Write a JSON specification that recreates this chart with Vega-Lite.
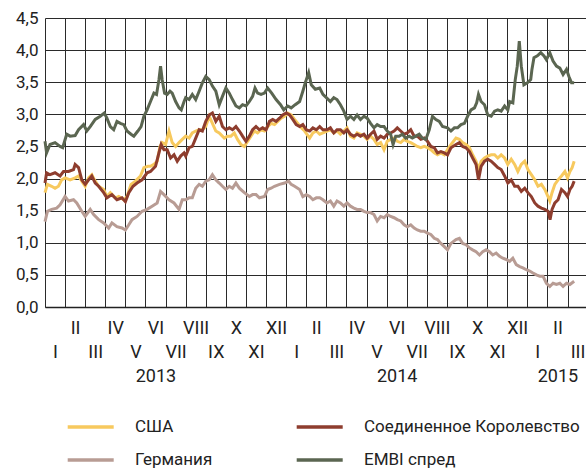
{
  "$schema": "https://vega.github.io/schema/vega-lite/v6.json",
  "width": 541,
  "height": 289,
  "autosize": {"type": "none"},
  "padding": {"left": 45, "top": 18, "right": 0, "bottom": 163},
  "background": "white",
  "config": {
    "view": {"stroke": null},
    "font": "Roboto"
  },
  "datasets": {
    "usa": [
      {"m":0,"v":1.78},{"m":0.12,"v":1.91},{"m":0.33,"v":1.88},{"m":0.5,"v":1.85},{"m":0.67,"v":1.88},{"m":0.83,"v":1.98},{"m":1.0,"v":2.01},{"m":1.25,"v":1.98},{"m":1.5,"v":2.01},{"m":1.67,"v":2.04},{"m":1.83,"v":1.96},{"m":2.0,"v":1.88},{"m":2.17,"v":2.01},{"m":2.33,"v":2.06},{"m":2.5,"v":1.96},{"m":2.67,"v":1.88},{"m":2.92,"v":1.83},{"m":3.08,"v":1.72},{"m":3.25,"v":1.78},{"m":3.5,"v":1.70},{"m":3.67,"v":1.72},{"m":3.92,"v":1.67},{"m":4.08,"v":1.72},{"m":4.28,"v":1.91},{"m":4.5,"v":1.96},{"m":4.75,"v":2.04},{"m":4.92,"v":2.17},{"m":5.12,"v":2.19},{"m":5.25,"v":2.19},{"m":5.42,"v":2.22},{"m":5.58,"v":2.27},{"m":5.72,"v":2.50},{"m":5.83,"v":2.56},{"m":6.0,"v":2.53},{"m":6.17,"v":2.74},{"m":6.33,"v":2.56},{"m":6.5,"v":2.50},{"m":6.67,"v":2.56},{"m":6.83,"v":2.61},
      {"m":7.0,"v":2.66},{"m":7.17,"v":2.63},{"m":7.33,"v":2.71},{"m":7.5,"v":2.74},{"m":7.67,"v":2.76},{"m":7.83,"v":2.76},{"m":8.0,"v":2.81},{"m":8.17,"v":2.97},{"m":8.33,"v":2.86},{"m":8.5,"v":2.74},{"m":8.67,"v":2.71},{"m":8.92,"v":2.63},{"m":9.08,"v":2.66},{"m":9.25,"v":2.66},{"m":9.42,"v":2.71},{"m":9.58,"v":2.61},{"m":9.75,"v":2.53},{"m":9.92,"v":2.50},{"m":10.08,"v":2.58},{"m":10.25,"v":2.66},{"m":10.42,"v":2.74},{"m":10.58,"v":2.71},{"m":10.75,"v":2.76},{"m":10.92,"v":2.74},{"m":11.08,"v":2.81},{"m":11.25,"v":2.86},{"m":11.42,"v":2.84},{"m":11.58,"v":2.89},{"m":11.75,"v":2.94},{"m":11.92,"v":2.97},{"m":12.08,"v":3.02},{"m":12.25,"v":2.99},{"m":12.42,"v":2.92},{"m":12.58,"v":2.86},{"m":12.75,"v":2.79},{"m":12.92,"v":2.74},{"m":13.17,"v":2.63},{"m":13.33,"v":2.71},{"m":13.5,"v":2.74},{"m":13.67,"v":2.69},{"m":13.83,"v":2.71},
      {"m":14.03,"v":2.74},{"m":14.2,"v":2.76},{"m":14.37,"v":2.71},{"m":14.53,"v":2.74},{"m":14.7,"v":2.69},{"m":14.87,"v":2.74},{"m":15.03,"v":2.79},{"m":15.2,"v":2.66},{"m":15.37,"v":2.63},{"m":15.53,"v":2.71},{"m":15.7,"v":2.69},{"m":15.87,"v":2.66},{"m":16.03,"v":2.61},{"m":16.2,"v":2.66},{"m":16.37,"v":2.61},{"m":16.53,"v":2.53},{"m":16.7,"v":2.56},{"m":16.87,"v":2.45},{"m":17.03,"v":2.58},{"m":17.2,"v":2.61},{"m":17.37,"v":2.63},{"m":17.53,"v":2.58},{"m":17.7,"v":2.56},{"m":17.87,"v":2.61},{"m":18.03,"v":2.58},{"m":18.2,"v":2.56},{"m":18.37,"v":2.53},{"m":18.53,"v":2.50},{"m":18.7,"v":2.48},{"m":18.87,"v":2.50},{"m":19.03,"v":2.48},{"m":19.2,"v":2.45},{"m":19.37,"v":2.40},{"m":19.53,"v":2.37},{"m":19.7,"v":2.40},{"m":19.87,"v":2.37},
      {"m":20.03,"v":2.45},{"m":20.2,"v":2.53},{"m":20.45,"v":2.63},{"m":20.62,"v":2.61},{"m":20.78,"v":2.56},{"m":20.95,"v":2.53},{"m":21.12,"v":2.48},{"m":21.28,"v":2.37},{"m":21.45,"v":2.27},{"m":21.57,"v":2.14},{"m":21.7,"v":2.27},{"m":21.87,"v":2.32},{"m":22.03,"v":2.35},{"m":22.2,"v":2.37},{"m":22.37,"v":2.37},{"m":22.53,"v":2.32},{"m":22.7,"v":2.37},{"m":22.87,"v":2.32},{"m":23.03,"v":2.22},{"m":23.2,"v":2.30},{"m":23.37,"v":2.22},{"m":23.53,"v":2.11},{"m":23.7,"v":2.22},{"m":23.87,"v":2.27},{"m":24.03,"v":2.14},{"m":24.2,"v":2.06},{"m":24.37,"v":1.98},{"m":24.53,"v":1.88},{"m":24.7,"v":1.91},{"m":24.87,"v":1.83},{"m":25.03,"v":1.72},{"m":25.12,"v":1.65},{"m":25.23,"v":1.78},{"m":25.37,"v":1.91},{"m":25.53,"v":1.98},{"m":25.7,"v":2.04},{"m":25.87,"v":2.11},{"m":26.0,"v":2.01},{"m":26.12,"v":2.11},{"m":26.23,"v":2.17},{"m":26.33,"v":2.27}
    ],
    "ger": [
      {"m":0,"v":1.33},{"m":0.12,"v":1.49},{"m":0.33,"v":1.52},{"m":0.58,"v":1.54},{"m":0.75,"v":1.59},{"m":1.0,"v":1.72},{"m":1.17,"v":1.65},{"m":1.42,"v":1.67},{"m":1.58,"v":1.62},{"m":1.83,"v":1.49},{"m":2.0,"v":1.41},{"m":2.25,"v":1.52},{"m":2.42,"v":1.44},{"m":2.67,"v":1.36},{"m":2.92,"v":1.31},{"m":3.17,"v":1.23},{"m":3.33,"v":1.31},{"m":3.58,"v":1.25},{"m":3.83,"v":1.23},{"m":4.0,"v":1.20},{"m":4.17,"v":1.28},{"m":4.33,"v":1.36},{"m":4.58,"v":1.41},{"m":4.83,"v":1.49},{"m":5.08,"v":1.52},{"m":5.33,"v":1.57},{"m":5.58,"v":1.62},{"m":5.75,"v":1.80},{"m":5.92,"v":1.75},{"m":6.17,"v":1.67},{"m":6.42,"v":1.62},{"m":6.67,"v":1.52},{"m":6.83,"v":1.67},
      {"m":7.0,"v":1.67},{"m":7.17,"v":1.70},{"m":7.33,"v":1.70},{"m":7.5,"v":1.85},{"m":7.67,"v":1.91},{"m":7.83,"v":1.88},{"m":8.0,"v":1.96},{"m":8.17,"v":1.98},{"m":8.33,"v":2.06},{"m":8.5,"v":1.98},{"m":8.67,"v":1.93},{"m":8.83,"v":1.88},{"m":9.0,"v":1.83},{"m":9.17,"v":1.88},{"m":9.33,"v":1.85},{"m":9.5,"v":1.93},{"m":9.67,"v":1.85},{"m":9.92,"v":1.78},{"m":10.17,"v":1.72},{"m":10.33,"v":1.75},{"m":10.5,"v":1.75},{"m":10.67,"v":1.70},{"m":10.92,"v":1.72},{"m":11.08,"v":1.83},{"m":11.25,"v":1.85},{"m":11.42,"v":1.88},{"m":11.67,"v":1.91},{"m":11.92,"v":1.93},{"m":12.12,"v":1.96},{"m":12.25,"v":1.91},{"m":12.42,"v":1.88},{"m":12.67,"v":1.83},{"m":12.83,"v":1.72},{"m":13.0,"v":1.75},{"m":13.17,"v":1.72},{"m":13.33,"v":1.67},{"m":13.5,"v":1.70},{"m":13.67,"v":1.70},{"m":13.83,"v":1.67},
      {"m":14.03,"v":1.62},{"m":14.2,"v":1.65},{"m":14.37,"v":1.57},{"m":14.53,"v":1.65},{"m":14.7,"v":1.62},{"m":14.87,"v":1.57},{"m":15.03,"v":1.62},{"m":15.2,"v":1.57},{"m":15.37,"v":1.54},{"m":15.53,"v":1.52},{"m":15.7,"v":1.52},{"m":15.87,"v":1.49},{"m":16.03,"v":1.47},{"m":16.2,"v":1.47},{"m":16.37,"v":1.44},{"m":16.53,"v":1.34},{"m":16.7,"v":1.41},{"m":16.87,"v":1.39},{"m":17.03,"v":1.44},{"m":17.2,"v":1.41},{"m":17.37,"v":1.39},{"m":17.53,"v":1.36},{"m":17.7,"v":1.34},{"m":17.87,"v":1.28},{"m":18.03,"v":1.25},{"m":18.2,"v":1.28},{"m":18.37,"v":1.23},{"m":18.53,"v":1.20},{"m":18.7,"v":1.18},{"m":18.87,"v":1.18},{"m":19.03,"v":1.15},{"m":19.2,"v":1.13},{"m":19.37,"v":1.07},{"m":19.53,"v":1.05},{"m":19.7,"v":0.99},{"m":19.87,"v":0.94},
      {"m":20.03,"v":0.89},{"m":20.2,"v":0.99},{"m":20.45,"v":1.05},{"m":20.62,"v":1.07},{"m":20.78,"v":0.99},{"m":20.95,"v":0.97},{"m":21.12,"v":0.92},{"m":21.28,"v":0.89},{"m":21.45,"v":0.86},{"m":21.62,"v":0.81},{"m":21.78,"v":0.86},{"m":21.95,"v":0.89},{"m":22.12,"v":0.86},{"m":22.28,"v":0.81},{"m":22.45,"v":0.84},{"m":22.62,"v":0.79},{"m":22.78,"v":0.76},{"m":22.95,"v":0.74},{"m":23.12,"v":0.71},{"m":23.28,"v":0.76},{"m":23.45,"v":0.66},{"m":23.62,"v":0.63},{"m":23.78,"v":0.61},{"m":23.95,"v":0.58},{"m":24.12,"v":0.56},{"m":24.28,"v":0.53},{"m":24.45,"v":0.50},{"m":24.62,"v":0.48},{"m":24.78,"v":0.48},{"m":24.95,"v":0.37},{"m":25.12,"v":0.32},{"m":25.28,"v":0.37},{"m":25.45,"v":0.35},{"m":25.62,"v":0.37},{"m":25.78,"v":0.32},{"m":25.95,"v":0.37},{"m":26.12,"v":0.35},{"m":26.33,"v":0.40}
    ],
    "uk": [
      {"m":0,"v":1.93},{"m":0.08,"v":2.09},{"m":0.25,"v":2.06},{"m":0.5,"v":2.09},{"m":0.75,"v":2.04},{"m":0.92,"v":2.11},{"m":1.17,"v":2.11},{"m":1.42,"v":2.14},{"m":1.5,"v":2.22},{"m":1.67,"v":2.17},{"m":1.83,"v":1.98},{"m":2.0,"v":1.91},{"m":2.17,"v":1.98},{"m":2.33,"v":2.04},{"m":2.5,"v":1.93},{"m":2.67,"v":1.88},{"m":2.92,"v":1.78},{"m":3.08,"v":1.70},{"m":3.33,"v":1.75},{"m":3.58,"v":1.67},{"m":3.83,"v":1.70},{"m":4.0,"v":1.64},{"m":4.17,"v":1.78},{"m":4.38,"v":1.88},{"m":4.58,"v":1.93},{"m":4.83,"v":1.98},{"m":5.08,"v":2.09},{"m":5.25,"v":2.11},{"m":5.5,"v":2.19},{"m":5.67,"v":2.40},{"m":5.78,"v":2.53},{"m":5.92,"v":2.45},{"m":6.08,"v":2.45},{"m":6.25,"v":2.32},{"m":6.42,"v":2.37},{"m":6.58,"v":2.27},{"m":6.75,"v":2.35},{"m":6.92,"v":2.40},
      {"m":7.0,"v":2.35},{"m":7.17,"v":2.48},{"m":7.33,"v":2.50},{"m":7.5,"v":2.63},{"m":7.67,"v":2.76},{"m":7.83,"v":2.74},{"m":8.0,"v":2.89},{"m":8.17,"v":2.99},{"m":8.33,"v":3.02},{"m":8.5,"v":2.89},{"m":8.67,"v":2.97},{"m":8.83,"v":2.81},{"m":9.0,"v":2.76},{"m":9.17,"v":2.79},{"m":9.33,"v":2.76},{"m":9.5,"v":2.81},{"m":9.67,"v":2.74},{"m":9.83,"v":2.66},{"m":10.0,"v":2.58},{"m":10.17,"v":2.66},{"m":10.33,"v":2.76},{"m":10.5,"v":2.81},{"m":10.67,"v":2.76},{"m":10.83,"v":2.79},{"m":11.0,"v":2.76},{"m":11.17,"v":2.89},{"m":11.33,"v":2.92},{"m":11.5,"v":2.89},{"m":11.67,"v":2.94},{"m":11.83,"v":2.99},{"m":12.0,"v":3.02},{"m":12.17,"v":2.99},{"m":12.33,"v":2.92},{"m":12.5,"v":2.84},{"m":12.67,"v":2.81},{"m":12.83,"v":2.84},{"m":13.0,"v":2.76},{"m":13.17,"v":2.74},{"m":13.33,"v":2.79},{"m":13.5,"v":2.76},{"m":13.67,"v":2.81},{"m":13.83,"v":2.76},
      {"m":14.03,"v":2.76},{"m":14.2,"v":2.79},{"m":14.37,"v":2.71},{"m":14.53,"v":2.76},{"m":14.7,"v":2.76},{"m":14.87,"v":2.71},{"m":15.03,"v":2.76},{"m":15.2,"v":2.69},{"m":15.37,"v":2.66},{"m":15.53,"v":2.69},{"m":15.7,"v":2.66},{"m":15.87,"v":2.69},{"m":16.03,"v":2.63},{"m":16.2,"v":2.69},{"m":16.37,"v":2.74},{"m":16.53,"v":2.61},{"m":16.7,"v":2.66},{"m":16.87,"v":2.63},{"m":17.03,"v":2.69},{"m":17.2,"v":2.71},{"m":17.37,"v":2.74},{"m":17.53,"v":2.79},{"m":17.7,"v":2.74},{"m":17.87,"v":2.69},{"m":18.03,"v":2.71},{"m":18.2,"v":2.76},{"m":18.37,"v":2.66},{"m":18.53,"v":2.66},{"m":18.7,"v":2.61},{"m":18.87,"v":2.63},{"m":19.03,"v":2.58},{"m":19.2,"v":2.50},{"m":19.37,"v":2.48},{"m":19.53,"v":2.40},{"m":19.7,"v":2.42},{"m":19.87,"v":2.40},
      {"m":20.03,"v":2.37},{"m":20.2,"v":2.48},{"m":20.45,"v":2.53},{"m":20.62,"v":2.56},{"m":20.78,"v":2.50},{"m":20.95,"v":2.48},{"m":21.12,"v":2.42},{"m":21.28,"v":2.32},{"m":21.45,"v":2.22},{"m":21.57,"v":1.98},{"m":21.7,"v":2.19},{"m":21.87,"v":2.27},{"m":22.03,"v":2.30},{"m":22.2,"v":2.27},{"m":22.37,"v":2.22},{"m":22.53,"v":2.17},{"m":22.7,"v":2.14},{"m":22.87,"v":2.04},{"m":23.03,"v":1.93},{"m":23.2,"v":1.98},{"m":23.37,"v":1.88},{"m":23.53,"v":1.88},{"m":23.7,"v":1.80},{"m":23.87,"v":1.85},{"m":24.03,"v":1.78},{"m":24.2,"v":1.72},{"m":24.37,"v":1.62},{"m":24.53,"v":1.57},{"m":24.7,"v":1.54},{"m":24.87,"v":1.52},{"m":25.03,"v":1.49},{"m":25.13,"v":1.36},{"m":25.23,"v":1.52},{"m":25.37,"v":1.62},{"m":25.53,"v":1.67},{"m":25.7,"v":1.83},{"m":25.87,"v":1.78},{"m":26.0,"v":1.72},{"m":26.12,"v":1.83},{"m":26.23,"v":1.88},{"m":26.33,"v":1.96}
    ],
    "embi": [
      {"m":0,"v":2.58},{"m":0.08,"v":2.40},{"m":0.25,"v":2.53},{"m":0.5,"v":2.56},{"m":0.75,"v":2.50},{"m":0.88,"v":2.48},{"m":1.08,"v":2.69},{"m":1.25,"v":2.66},{"m":1.5,"v":2.67},{"m":1.67,"v":2.76},{"m":1.92,"v":2.84},{"m":2.08,"v":2.74},{"m":2.25,"v":2.81},{"m":2.5,"v":2.92},{"m":2.75,"v":2.97},{"m":2.95,"v":3.02},{"m":3.08,"v":2.94},{"m":3.25,"v":2.81},{"m":3.42,"v":2.76},{"m":3.58,"v":2.89},{"m":3.75,"v":2.86},{"m":3.92,"v":2.84},{"m":4.08,"v":2.74},{"m":4.28,"v":2.69},{"m":4.42,"v":2.66},{"m":4.62,"v":2.74},{"m":4.78,"v":2.81},{"m":4.92,"v":2.97},{"m":5.08,"v":3.07},{"m":5.25,"v":3.20},{"m":5.42,"v":3.33},{"m":5.55,"v":3.31},{"m":5.67,"v":3.54},{"m":5.75,"v":3.75},{"m":5.83,"v":3.54},{"m":5.95,"v":3.33},{"m":6.08,"v":3.31},{"m":6.22,"v":3.36},{"m":6.33,"v":3.33},{"m":6.5,"v":3.20},{"m":6.67,"v":3.10},{"m":6.78,"v":3.07},{"m":6.92,"v":3.20},
      {"m":7.0,"v":3.26},{"m":7.17,"v":3.23},{"m":7.33,"v":3.31},{"m":7.5,"v":3.23},{"m":7.67,"v":3.36},{"m":7.83,"v":3.49},{"m":8.0,"v":3.59},{"m":8.17,"v":3.54},{"m":8.33,"v":3.44},{"m":8.5,"v":3.36},{"m":8.67,"v":3.15},{"m":8.83,"v":3.28},{"m":9.0,"v":3.41},{"m":9.17,"v":3.33},{"m":9.33,"v":3.23},{"m":9.5,"v":3.13},{"m":9.67,"v":3.10},{"m":9.83,"v":3.15},{"m":10.0,"v":3.13},{"m":10.17,"v":3.20},{"m":10.33,"v":3.28},{"m":10.45,"v":3.41},{"m":10.58,"v":3.33},{"m":10.75,"v":3.31},{"m":10.92,"v":3.33},{"m":11.08,"v":3.41},{"m":11.28,"v":3.33},{"m":11.5,"v":3.23},{"m":11.72,"v":3.15},{"m":11.88,"v":3.07},{"m":12.08,"v":3.13},{"m":12.25,"v":3.10},{"m":12.45,"v":3.15},{"m":12.67,"v":3.20},{"m":12.83,"v":3.36},{"m":12.95,"v":3.49},{"m":13.12,"v":3.65},{"m":13.25,"v":3.46},{"m":13.45,"v":3.39},{"m":13.67,"v":3.41},{"m":13.83,"v":3.31},
      {"m":14.0,"v":3.26},{"m":14.2,"v":3.20},{"m":14.37,"v":3.26},{"m":14.53,"v":3.23},{"m":14.7,"v":3.15},{"m":14.87,"v":3.05},{"m":15.03,"v":2.92},{"m":15.2,"v":2.97},{"m":15.37,"v":2.92},{"m":15.53,"v":2.99},{"m":15.7,"v":2.92},{"m":15.87,"v":2.97},{"m":16.03,"v":2.94},{"m":16.2,"v":2.86},{"m":16.37,"v":2.79},{"m":16.53,"v":2.84},{"m":16.7,"v":2.81},{"m":16.87,"v":2.81},{"m":17.03,"v":2.74},{"m":17.2,"v":2.69},{"m":17.32,"v":2.53},{"m":17.45,"v":2.66},{"m":17.62,"v":2.66},{"m":17.78,"v":2.69},{"m":17.95,"v":2.63},{"m":18.12,"v":2.66},{"m":18.28,"v":2.63},{"m":18.45,"v":2.66},{"m":18.62,"v":2.69},{"m":18.78,"v":2.63},{"m":18.95,"v":2.61},{"m":19.12,"v":2.76},{"m":19.28,"v":2.97},{"m":19.45,"v":2.92},{"m":19.62,"v":2.89},{"m":19.78,"v":2.81},
      {"m":20.03,"v":2.79},{"m":20.2,"v":2.74},{"m":20.37,"v":2.79},{"m":20.53,"v":2.79},{"m":20.7,"v":2.84},{"m":20.87,"v":2.86},{"m":21.03,"v":2.97},{"m":21.2,"v":3.07},{"m":21.37,"v":3.10},{"m":21.48,"v":3.18},{"m":21.57,"v":3.31},{"m":21.7,"v":3.20},{"m":21.87,"v":3.15},{"m":22.03,"v":2.99},{"m":22.2,"v":2.97},{"m":22.37,"v":3.05},{"m":22.53,"v":3.07},{"m":22.7,"v":3.05},{"m":22.87,"v":3.13},{"m":23.03,"v":3.07},{"m":23.12,"v":3.20},{"m":23.28,"v":3.18},{"m":23.4,"v":3.54},{"m":23.5,"v":3.75},{"m":23.6,"v":4.14},{"m":23.7,"v":3.75},{"m":23.83,"v":3.46},{"m":24.0,"v":3.49},{"m":24.17,"v":3.54},{"m":24.23,"v":3.70},{"m":24.33,"v":3.88},{"m":24.5,"v":3.91},{"m":24.67,"v":3.96},{"m":24.83,"v":3.91},{"m":24.95,"v":3.85},{"m":25.12,"v":3.96},{"m":25.28,"v":3.83},{"m":25.45,"v":3.75},{"m":25.62,"v":3.72},{"m":25.78,"v":3.62},{"m":25.95,"v":3.70},{"m":26.07,"v":3.59},{"m":26.2,"v":3.49},{"m":26.33,"v":3.49}
    ]
  },
  "encoding": {
    "x": {
      "field": "m", "type": "quantitative",
      "scale": {"domain": [0, 26.92], "nice": false, "zero": false},
      "axis": {
        "title": null,
        "values": [0,1,2,3,4,5,6,7,8,9,10,11,12,13,14,15,16,17,18,19,20,21,22,23,24,25,26],
        "grid": true, "gridColor": "#2a2a2a", "gridWidth": 1, "gridOpacity": 1,
        "ticks": false, "tickSize": 0,
        "domain": true, "domainColor": "#222", "domainWidth": 1.5,
        "labelOffset": 10, "labelPadding": 12, "labelAlign": "center", "labelBaseline": "top",
        "labelFontSize": 18, "labelLineHeight": 24, "labelColor": "#222",
        "labelOverlap": false, "labelFlush": false, "labelBound": false,
        "labelExpr": "datum.value % 2 == 1 ? (datum.value == 5 ? ['VI', '\u200b', '2013'] : datum.value == 17 ? ['VI', '\u200b', '2014'] : datum.value == 25 ? ['II', '\u200b', '2015'] : ['I','II','III','IV','V','VI','VII','VIII','IX','X','XI','XII'][datum.value % 12]) : ['\u200b', ['I','II','III','IV','V','VI','VII','VIII','IX','X','XI','XII'][datum.value % 12]]"
      }
    },
    "y": {
      "field": "v", "type": "quantitative",
      "scale": {"domain": [0, 4.5], "nice": false},
      "axis": {
        "title": null,
        "values": [0,0.5,1,1.5,2,2.5,3,3.5,4,4.5],
        "grid": true, "gridColor": "#2a2a2a", "gridWidth": 1, "gridOpacity": 1,
        "ticks": false, "tickSize": 0, "domain": false,
        "labelOverlap": false,
        "labelPadding": 7, "labelFontSize": 17, "labelColor": "#222",
        "labelExpr": "replace(format(datum.value, '.1f'), '.', ',')"
      }
    }
  },
  "layer": [
    {
      "data": {"name": "usa"},
      "mark": {"type": "line", "strokeWidth": 3},
      "encoding": {
        "color": {
          "datum": "США", "type": "nominal",
          "scale": {
            "domain": ["США", "Соединенное Королевство", "Германия", "EMBI спред"],
            "range": ["#F7C95E", "#8E3D2E", "#B89C94", "#5B6651"]
          },
          "legend": {
            "title": null, "orient": "none", "legendX": 20.7, "legendY": 384,
            "direction": "horizontal",
            "columns": 2, "columnPadding": 77, "rowPadding": -14.5,
            "symbolType": "stroke", "symbolSize": 2116, "symbolStrokeWidth": 3.5,
            "symbolFillColor": "transparent",
            "labelOffset": 19.3, "labelFontSize": 17, "labelColor": "#222", "labelLimit": 400,
            "padding": 0
          }
        }
      }
    },
    {
      "data": {"name": "ger"},
      "mark": {"type": "line", "strokeWidth": 3},
      "encoding": {"color": {"datum": "Германия", "type": "nominal"}}
    },
    {
      "data": {"name": "uk"},
      "mark": {"type": "line", "strokeWidth": 3},
      "encoding": {"color": {"datum": "Соединенное Королевство", "type": "nominal"}}
    },
    {
      "data": {"name": "embi"},
      "mark": {"type": "line", "strokeWidth": 3},
      "encoding": {"color": {"datum": "EMBI спред", "type": "nominal"}}
    }
  ]
}
